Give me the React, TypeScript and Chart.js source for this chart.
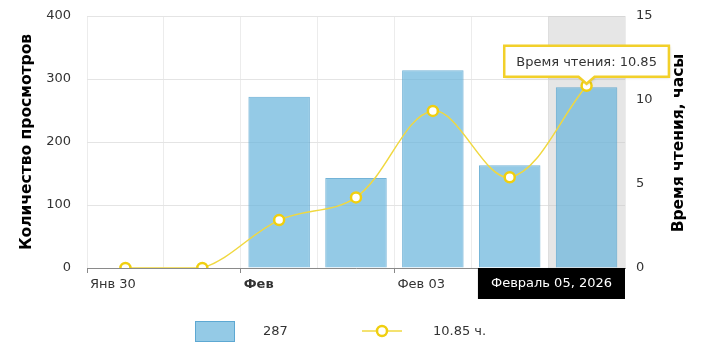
import React, { useEffect, useRef } from 'react';
import { Chart, registerables } from 'chart.js';

Chart.register(...registerables);

const categories = ['Янв 30', 'Янв 31', 'Фев 01', 'Фев 02', 'Фев 03', 'Фев 04', 'Фев 05'];
const views = [0, 0, 272, 143, 314, 163, 287];
const readingHours = [0, 0, 2.85, 4.2, 9.35, 5.4, 10.85];
const boundaryLabels = ['Янв 30', '', 'Фев', '', 'Фев 03', '', 'Фев 05', ''];
const boldTickText = 'Фев';
const leftTitle = 'Количество просмотров';
const rightTitle = 'Время чтения, часы';
const activeIndex = 6;
const cursorLabel = 'Февраль 05, 2026';
const tooltipLabel = 'Время чтения: 10.85';
const legendTexts = ['287', '10.85 ч.'];

const FONT = 'DejaVu Sans, Verdana, sans-serif';
const BAR_FILL = 'rgba(103,180,220,0.7)';
const BAR_BORDER = 'rgba(80,160,205,0.8)';
const LINE_COLOR = '#f0d840';
const POINT_COLOR = '#f0cf10';
const TEXT = '#333333';

const overlayPlugin = {
  id: 'overlay',
  beforeDatasetsDraw(chart: any) {
    const { ctx, chartArea } = chart;
    const x = chart.scales.x;
    const half = (x.getPixelForValue(1) - x.getPixelForValue(0)) / 2;
    const cx = x.getPixelForValue(activeIndex);
    ctx.save();
    ctx.fillStyle = 'rgba(200,200,200,0.45)';
    ctx.fillRect(cx - half, chartArea.top, half * 2, chartArea.bottom - chartArea.top);
    ctx.restore();
  },
  afterDraw(chart: any) {
    const { ctx, chartArea } = chart;
    const xs = chart.scales.x;
    // right axis title (reads bottom to top)
    ctx.save();
    ctx.translate(679, (chartArea.top + chartArea.bottom) / 2 + 1);
    ctx.rotate(-Math.PI / 2);
    ctx.font = `bold 15.5px ${FONT}`;
    ctx.fillStyle = '#000';
    ctx.textAlign = 'center';
    ctx.textBaseline = 'middle';
    ctx.fillText(rightTitle, 0, 0);
    ctx.restore();

    // cursor balloon
    ctx.save();
    ctx.font = `13px ${FONT}`;
    const cw = ctx.measureText(cursorLabel).width + 26;
    let bx = xs.getPixelForValue(activeIndex) - cw / 2;
    if (bx + cw > chartArea.right) bx = chartArea.right - cw;
    const by = chartArea.bottom;
    ctx.fillStyle = '#000';
    ctx.fillRect(bx, by, cw, 31);
    ctx.fillStyle = '#fff';
    ctx.textAlign = 'center';
    ctx.textBaseline = 'middle';
    ctx.fillText(cursorLabel, bx + cw / 2, by + 16);
    ctx.restore();

    // value tooltip
    const pt = chart.getDatasetMeta(0).data[activeIndex];
    if (pt) {
      ctx.save();
      ctx.font = `13px ${FONT}`;
      const tw = ctx.measureText(tooltipLabel).width + 24;
      const th = 31;
      const tx = pt.x - tw / 2;
      const bottom = pt.y - 9;
      const ty = bottom - th;
      ctx.shadowColor = 'rgba(0,0,0,0.2)';
      ctx.shadowBlur = 3;
      ctx.shadowOffsetX = 1;
      ctx.shadowOffsetY = 1;
      ctx.beginPath();
      ctx.moveTo(tx, ty);
      ctx.lineTo(tx + tw, ty);
      ctx.lineTo(tx + tw, bottom);
      ctx.lineTo(pt.x + 8, bottom);
      ctx.lineTo(pt.x, bottom + 7);
      ctx.lineTo(pt.x - 8, bottom);
      ctx.lineTo(tx, bottom);
      ctx.closePath();
      ctx.fillStyle = '#fff';
      ctx.fill();
      ctx.shadowColor = 'transparent';
      ctx.lineWidth = 2.5;
      ctx.strokeStyle = '#f2d02a';
      ctx.stroke();
      ctx.fillStyle = TEXT;
      ctx.textAlign = 'left';
      ctx.textBaseline = 'middle';
      ctx.fillText(tooltipLabel, tx + 12, ty + th / 2 + 1);
      ctx.restore();
    }

    // legend
    ctx.save();
    const ly = 331;
    ctx.fillStyle = BAR_FILL;
    ctx.fillRect(195, ly - 10, 40, 21);
    ctx.strokeStyle = BAR_BORDER;
    ctx.lineWidth = 1;
    ctx.strokeRect(195.5, ly - 9.5, 39, 20);
    ctx.font = `13px ${FONT}`;
    ctx.fillStyle = TEXT;
    ctx.textBaseline = 'middle';
    ctx.textAlign = 'left';
    ctx.fillText(legendTexts[0], 263, ly + 1);
    ctx.strokeStyle = LINE_COLOR;
    ctx.lineWidth = 1.5;
    ctx.beginPath();
    ctx.moveTo(362, ly);
    ctx.lineTo(402, ly);
    ctx.stroke();
    ctx.beginPath();
    ctx.arc(382, ly, 5, 0, Math.PI * 2);
    ctx.fillStyle = '#fff';
    ctx.fill();
    ctx.lineWidth = 2.5;
    ctx.strokeStyle = POINT_COLOR;
    ctx.stroke();
    ctx.fillStyle = TEXT;
    ctx.fillText(legendTexts[1], 433, ly + 1);
    ctx.restore();
  },
};

export default function App() {
  const ref = useRef<HTMLCanvasElement | null>(null);
  useEffect(() => {
    if (!ref.current) return;
    const chart = new Chart(ref.current, {
      type: 'bar',
      data: {
        labels: categories,
        datasets: [
          {
            type: 'line',
            label: 'hours',
            data: readingHours,
            yAxisID: 'y1',
            xAxisID: 'x',
            borderColor: LINE_COLOR,
            borderWidth: 1.5,
            tension: 0.35,
            pointRadius: 5,
            pointBorderWidth: 2.5,
            pointBackgroundColor: '#fff',
            pointBorderColor: POINT_COLOR,
            order: 0,
          } as any,
          {
            type: 'bar',
            label: 'views',
            data: views,
            yAxisID: 'y',
            xAxisID: 'x',
            backgroundColor: BAR_FILL,
            borderColor: BAR_BORDER,
            borderWidth: 1,
            categoryPercentage: 0.8,
            barPercentage: 1.0,
            order: 1,
          } as any,
        ],
      },
      options: {
        animation: false,
        responsive: false,
        events: [],
        layout: { padding: { top: 16, left: 0, right: 0, bottom: 0 } },
        plugins: { legend: { display: false }, tooltip: { enabled: false } },
        scales: {
          x: { type: 'category', display: false, offset: true },
          x2: {
            type: 'category',
            labels: boundaryLabels,
            position: 'bottom',
            offset: false,
            afterFit: (s: any) => {
              s.height = 88;
              s.paddingLeft = 0;
              s.paddingRight = 0;
            },
            grid: {
              offset: false,
              color: '#ececec',
              tickLength: 5,
              tickColor: (c: any) =>
                c.tick && boundaryLabels[c.index] ? '#888' : 'rgba(0,0,0,0)',
            },
            border: { display: true, color: '#8a8a8a', width: 1 },
            ticks: {
              autoSkip: false,
              maxRotation: 0,
              align: 'start',
              labelOffset: 3,
              padding: 4,
              color: TEXT,
              font: (c: any) => ({
                family: FONT,
                size: 13,
                weight: boundaryLabels[c.index] === boldTickText ? 'bold' : 'normal',
              }),
            },
          } as any,
          y: {
            position: 'left',
            min: 0,
            max: 400,
            afterFit: (s: any) => {
              s.width = 87;
              s.paddingTop = 0;
              s.paddingBottom = 0;
            },
            ticks: { stepSize: 100, padding: 16, color: TEXT, font: { family: FONT, size: 13 } },
            grid: { color: '#e4e4e4', drawTicks: false },
            border: { display: false },
            title: {
              display: true,
              text: leftTitle,
              color: '#000',
              font: { family: FONT, size: 15.5, weight: 'bold' },
              padding: { top: 18, bottom: 0 },
            },
          } as any,
          y1: {
            position: 'right',
            min: 0,
            max: 15,
            afterFit: (s: any) => {
              s.width = 82;
              s.paddingTop = 0;
              s.paddingBottom = 0;
            },
            ticks: { stepSize: 5, padding: 11, color: TEXT, font: { family: FONT, size: 13 } },
            grid: { display: false, drawTicks: false },
            border: { display: false },
          } as any,
        },
      } as any,
      plugins: [overlayPlugin],
    });
    return () => chart.destroy();
  }, []);
  return (
    <div style={{ position: 'fixed', left: 0, top: 0, width: 707, height: 356, background: '#fff' }}>
      <canvas ref={ref} width={707} height={356} style={{ display: 'block' }} />
    </div>
  );
}
